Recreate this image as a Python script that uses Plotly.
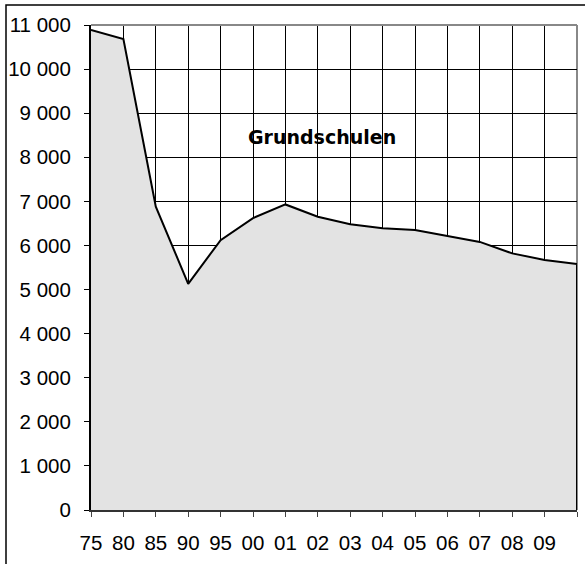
import plotly.graph_objects as go

# ---- data ----
years = ["75", "80", "85", "90", "95", "00", "01", "02", "03", "04",
         "05", "06", "07", "08", "09", "10"]
values = [10890, 10680, 6880, 5130, 6120, 6620, 6930, 6650, 6480, 6390,
          6350, 6210, 6080, 5820, 5670, 5580]
x_tick_labels = years[:-1] + [""]          # last category has no label
y_ticks = list(range(0, 11001, 1000))
y_tick_labels = ["0" if v == 0 else f"{v // 1000} {v % 1000:03d}" for v in y_ticks]
title_text = "Grundschulen"

idx = list(range(len(years)))

W, H = 585, 564
L, R, T, B = 91, 8, 25, 54
pw, ph = W - L - R, H - T - B


def px(x):
    return (x - L) / pw


def py(y):
    return (H - B - y) / ph


fig = go.Figure()
# filled area (no outline)
fig.add_trace(go.Scatter(x=idx, y=values, mode="lines", fill="tozeroy",
                         fillcolor="#e3e3e3", line=dict(width=0),
                         hoverinfo="skip", showlegend=False))
# outline incl. right vertical edge
fig.add_trace(go.Scatter(x=idx + [idx[-1]], y=values + [0], mode="lines",
                         line=dict(color="black", width=2),
                         showlegend=False, cliponaxis=False))

font = "Liberation Sans, Arial, sans-serif"

fig.update_layout(
    width=W, height=H,
    margin=dict(l=L, r=R, t=T, b=B, pad=0, autoexpand=False),
    paper_bgcolor="white", plot_bgcolor="white",
    showlegend=False,
    font=dict(family=font, color="black", size=20),
    xaxis=dict(range=[0, len(years) - 1], tickmode="array", tickvals=idx,
               ticktext=x_tick_labels, showgrid=True, gridcolor="black",
               gridwidth=1, zeroline=False, ticks="outside", ticklen=5,
               tickcolor="#444", tickwidth=1, showline=True,
               linecolor="#333", linewidth=2, ticklabelstandoff=8,
               automargin=False,
               tickfont=dict(family=font, size=20.5, color="black")),
    yaxis=dict(range=[0, 11000], tickmode="array", tickvals=y_ticks,
               ticktext=y_tick_labels, showgrid=True, gridcolor="black",
               gridwidth=1, zeroline=False, ticks="outside", ticklen=5,
               tickcolor="black", tickwidth=1, showline=True,
               linecolor="black", linewidth=2, ticklabelstandoff=9,
               automargin=False,
               tickfont=dict(family=font, size=20.5, color="black")),
    shapes=[
        # gray plot-area frame (top and right)
        dict(type="line", xref="paper", yref="paper", x0=0, x1=1, y0=1, y1=1,
             line=dict(color="#888", width=2), layer="above"),
        dict(type="line", xref="paper", yref="paper", x0=1, x1=1, y0=0, y1=1,
             line=dict(color="#888", width=2), layer="below"),
        # outer chart border
        dict(type="rect", xref="paper", yref="paper",
             x0=px(6), x1=px(W + 5), y0=py(H + 5), y1=py(5),
             line=dict(color="black", width=1.5), fillcolor="rgba(0,0,0,0)",
             layer="above"),
    ],
    annotations=[
        dict(text=f"<b>{title_text}</b>", xref="paper", yref="paper",
             x=px(322), y=py(137), xanchor="center", yanchor="middle",
             showarrow=False,
             font=dict(family="DejaVu Sans, sans-serif", size=19, color="black")),
    ],
)

fig.write_html("out.html",
               config={"displayModeBar": False},
               post_script="document.body.style.margin='0';"
                           "document.body.style.overflow='hidden';")
